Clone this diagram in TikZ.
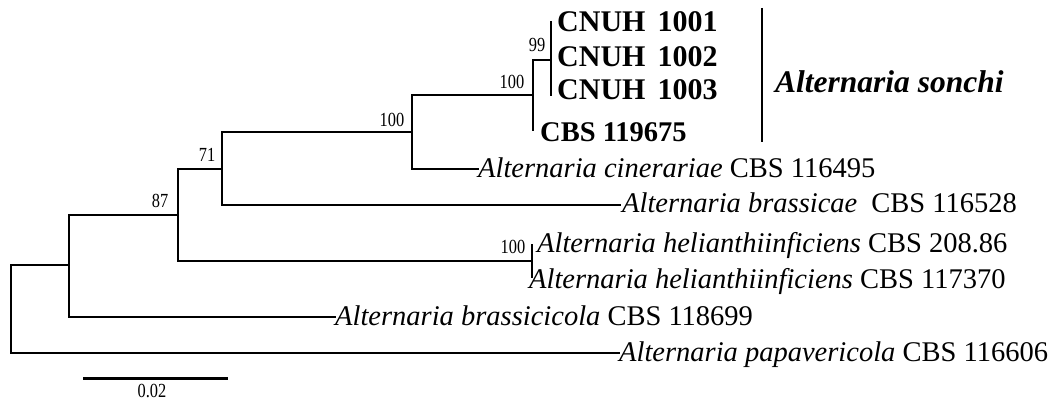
\documentclass[tikz,border=0pt]{standalone}
\usepackage{fontspec}
\setmainfont{Liberation Serif}
\newcommand{\bootnum}[1]{\scalebox{0.82}[1]{#1}}
\begin{document}
\begin{tikzpicture}[x=1pt,y=-1pt,
  br/.style={line width=1.4pt,line cap=rect},
  leaf/.style={anchor=base west,inner sep=0pt,font=\fontsize{28.5}{30}\selectfont},
  strain/.style={anchor=base west,inner sep=0pt,font=\fontsize{30}{32}\selectfont\bfseries},
  boot/.style={inner sep=0pt,font=\fontsize{20}{21}\selectfont},
  clade/.style={inner sep=0pt,font=\fontsize{31.5}{34}\selectfont\bfseries\itshape}]
\useasboundingbox (0,0) rectangle (1052,401);
% internal nodes
\coordinate (root) at (11,309);
\coordinate (n1) at (69,265);
\coordinate (n87) at (178,215);
\coordinate (n71) at (222,169);
\coordinate (na) at (412,132);
\coordinate (nb) at (533,95);
\coordinate (n99) at (551,60);
\coordinate (nh) at (532,261);
% leaf tips
\coordinate (t1) at (551,22);
\coordinate (t2) at (551,58);
\coordinate (t3) at (551,95);
\coordinate (t4) at (533,130);
\coordinate (t5) at (478,169);
\coordinate (t6) at (620,205);
\coordinate (t7) at (532,245);
\coordinate (t8) at (532,277);
\coordinate (t9) at (335,317);
\coordinate (t10) at (619,353);
% leaf labels
\node[strain] (l1) at (557,32) {CNUH\hspace{12pt}1001};
\node[strain] (l2) at (557,67) {CNUH\hspace{12pt}1002};
\node[strain] (l3) at (557,100) {CNUH\hspace{12pt}1003};
\node[strain,font=\fontsize{28.5}{30}\selectfont\bfseries] (l4) at (540,142) {CBS 119675};
\node[leaf] (l5) at (478,177) {\textit{Alternaria cinerariae} CBS 116495};
\node[leaf] (l6) at (622,212) {\textit{Alternaria brassicae}\hspace{14pt}CBS 116528};
\node[leaf] (l7) at (537,252) {\textit{Alternaria helianthiinficiens} CBS 208.86};
\node[leaf] (l8) at (529,288) {\textit{Alternaria helianthiinficiens} CBS 117370};
\node[leaf] (l9) at (335,325) {\textit{Alternaria brassicicola} CBS 118699};
\node[leaf] (l10) at (619,361) {\textit{Alternaria papavericola} CBS 116606};
% branches
\draw[br] (root) |- (n1);
\draw[br] (root) |- (t10);
\draw[br] (n1) |- (n87);
\draw[br] (n1) |- (t9);
\draw[br] (n87) |- (n71);
\draw[br] (n87) |- (nh);
\draw[br] (n71) |- (na);
\draw[br] (n71) |- (t6);
\draw[br] (na) |- (nb);
\draw[br] (na) |- (t5);
\draw[br] (nb) |- (n99);
\draw[br] (nb) |- (t4);
\draw[br] (n99) -- (t1);
\draw[br] (n99) -- (t3);
\draw[br] (nh) -- (t7);
\draw[br] (nh) -- (t8);
% bootstrap values
\node[boot] (b1) at (160,201) {\bootnum{87}};
\node[boot] (b2) at (207,155) {\bootnum{71}};
\node[boot] (b3) at (392,120) {\bootnum{100}};
\node[boot] (b4) at (512,82) {\bootnum{100}};
\node[boot] (b5) at (537,45) {\bootnum{99}};
\node[boot] (b6) at (513,247) {\bootnum{100}};
% clade bar
\coordinate (ct) at (762,8);
\coordinate (cb) at (762,142);
\draw[line width=2.6pt] (ct) -- (cb);
\node[clade,anchor=west] (cl) at (775,82) {Alternaria sonchi};
% scale bar
\coordinate (s1) at (83,378);
\coordinate (s2) at (228,378);
\draw[line width=3pt] (s1) -- (s2);
\node[boot,anchor=base] (sl) at (152,397) {\bootnum{0.02}};
\end{tikzpicture}
\end{document}
